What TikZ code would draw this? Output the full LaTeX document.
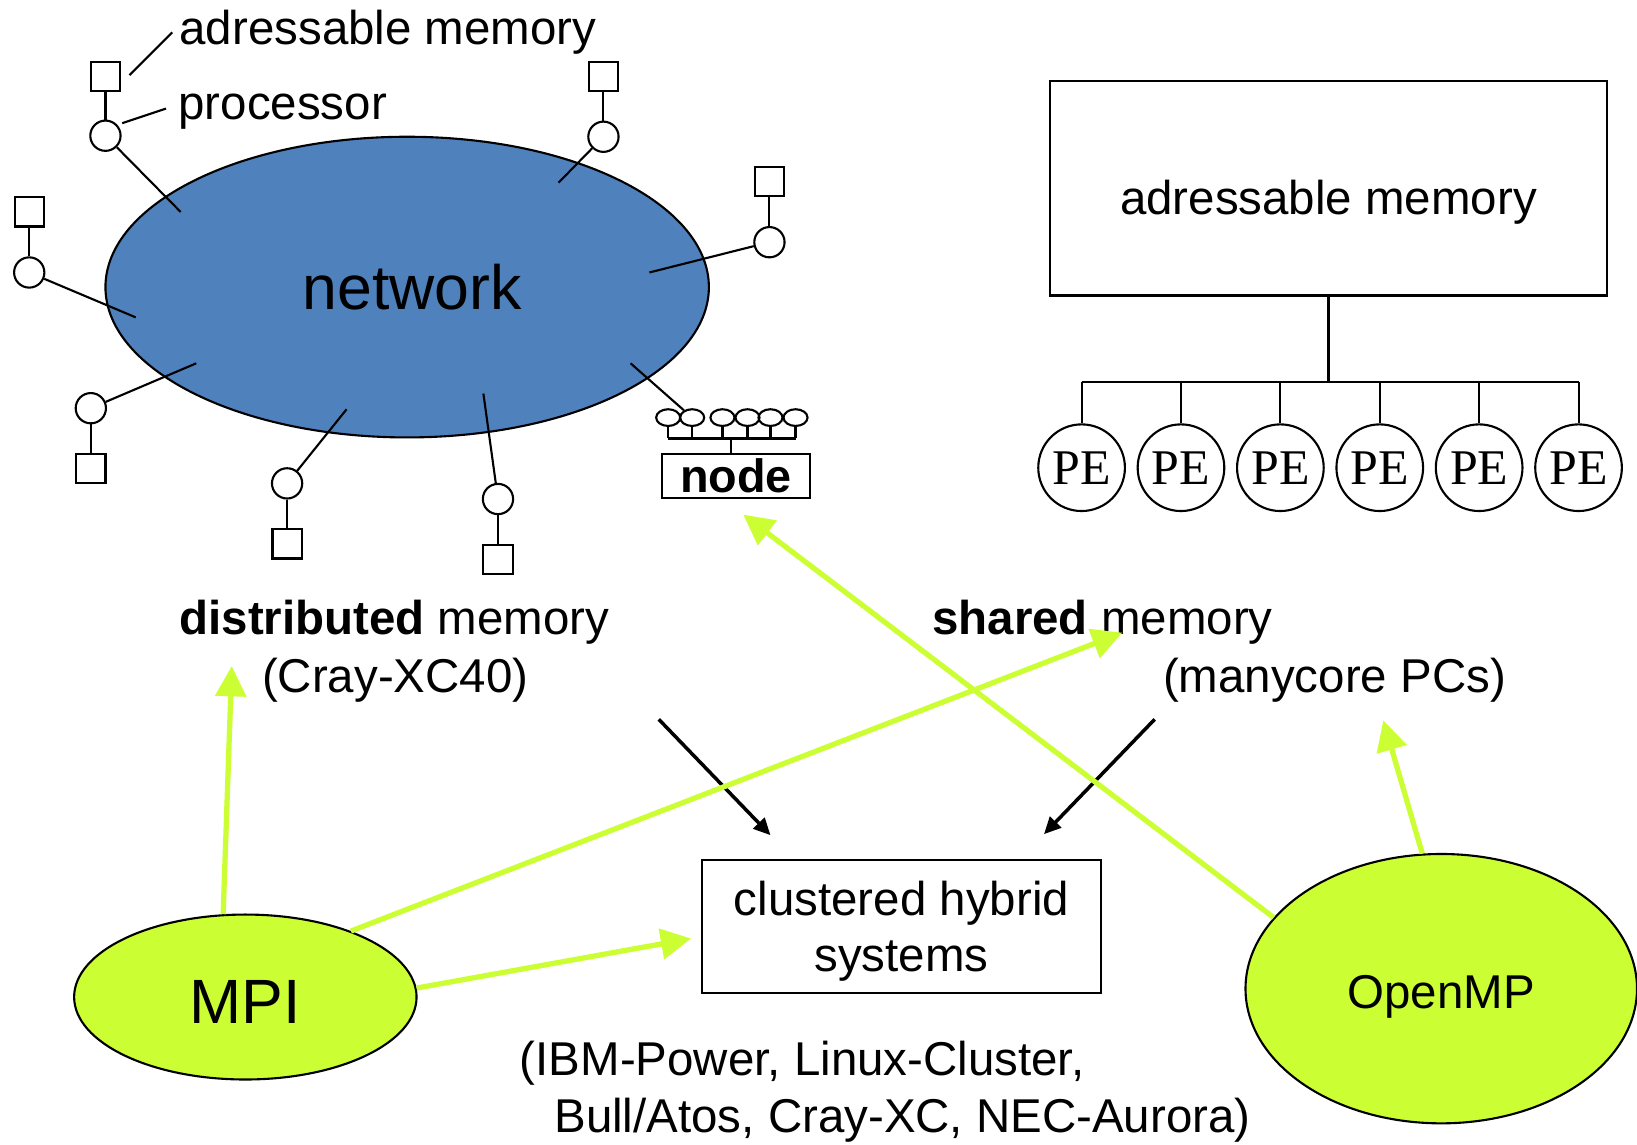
\documentclass[tikz,border=0pt]{standalone}
\usepackage{fontspec}
\setmainfont{Liberation Sans}
\newfontfamily\peserif{Liberation Serif}
\usetikzlibrary{shapes.geometric,arrows.meta}
\definecolor{netblue}{HTML}{4F81BD}
\definecolor{apigreen}{HTML}{CCFF33}

\begin{document}
\begin{tikzpicture}[x=0.01044cm,y=-0.01044cm,line width=0.6pt,
    txt/.style={inner sep=0pt,font=\fontsize{13.5}{16}\selectfont},
    big/.style={inner sep=0pt,font=\fontsize{17.8}{21}\selectfont},
    proc/.style={circle,draw,inner sep=0pt,minimum size=29*\PixelSize},
    mem/.style={rectangle,draw,inner sep=0pt,minimum size=28*\PixelSize},
    core/.style={ellipse,draw,inner sep=0pt,minimum width=23*\PixelSize,minimum height=16*\PixelSize},
    pe/.style={circle,draw,inner sep=0pt,minimum size=83*\PixelSize,font=\peserif\fontsize{14.2}{16}\selectfont},
    api/.style={ellipse,draw,fill=apigreen,inner sep=0pt},
    greenarrow/.style={draw=apigreen,line width=1.5pt,-{Triangle[length=8.6pt,width=8.6pt]}},
    blackarrow/.style={line width=1pt,-{Triangle[length=4.8pt,width=4.4pt]}}
  ]
  \def\PixelSize{0.01044cm}
  \useasboundingbox (0,0) rectangle (1568,1096);

  % distributed memory: processors around the network
  \node[ellipse,draw,fill=netblue,big,minimum width=578*\PixelSize,minimum height=288*\PixelSize]
    (net) at (390,275) {\hspace*{0.1cm}network};
  \foreach \x/\yp/\ym/\tx/\ty [count=\i] in {101/130/73/173/203, 578/131/73/535/175,
      28/261/203/130/304, 737/232/174/622/261, 87/391/449/188/348,
      275/463/521/332/392, 477/478/536/463/377}
  {
    \node[proc] (p\i) at (\x,\yp) {};
    \node[mem] (m\i) at (\x,\ym) {};
    \coordinate (t\i) at (\tx,\ty);
    \draw (m\i) -- (p\i);
    \draw (p\i) -- (t\i);
  }
  \node[txt,anchor=base west] (lblmem) at (171,43) {adressable memory};
  \node[txt,anchor=base west] (lblproc) at (170,114) {processor};
  \coordinate (lm1) at (124,72);
  \coordinate (lm2) at (165,31);
  \coordinate (lp1) at (117,118);
  \coordinate (lp2) at (159,104);
  \draw (lm1) -- (lm2);
  \draw (lp1) -- (lp2);

  % one node with its cores
  \foreach \x [count=\i] in {640,663,692,716,738,762}
    \node[core] (c\i) at (\x,400) {};
  \node[txt,draw,font=\fontsize{13.3}{16}\selectfont\bfseries,minimum width=142*\PixelSize,minimum height=42*\PixelSize]
    (cnode) at (705,456) {node};
  \coordinate (hub) at (700,420);
  \draw (c1.south |- hub) -- (c6.south |- hub);
  \foreach \i in {1,...,6}
    \draw (c\i.south) -- (c\i.south |- hub);
  \draw (hub) -- (hub |- cnode.north);
  \coordinate (t8) at (604,348);
  \draw (t8) -- (c2);

  % shared memory
  \node[txt,draw,text height=49*\PixelSize,text depth=0pt,minimum width=533*\PixelSize,minimum height=205*\PixelSize]
    (smem) at (1272.5,180.5) {adressable memory};
  \coordinate (bus) at (1275,366);
  \foreach \i in {1,...,6}
    \node[pe] (pe\i) at ({1036+95.2*(\i-1)},448) {PE};
  \draw (smem.south) -- (smem.south |- bus);
  \draw (pe1.north |- bus) -- (pe6.north |- bus);
  \foreach \i in {1,...,6}
    \draw (pe\i.north) -- (pe\i.north |- bus);

  % captions
  \node[txt,anchor=base west] (dist) at (171,608) {\textbf{distributed} memory};
  \node[txt,anchor=base west] (cray) at (250,663) {(Cray-XC40)};
  \node[txt,anchor=base west] (shared) at (892,608) {\textbf{shared} memory};
  \node[txt,anchor=base west] (many) at (1113,663) {(manycore PCs)};

  % hybrid systems
  \node[txt,draw,align=center,text depth=0pt,minimum width=383*\PixelSize,minimum height=127*\PixelSize]
    (hybrid) at (863.5,887.5) {clustered hybrid\\systems};
  \node[txt,anchor=base west] (sys1) at (497,1030) {(IBM-Power, Linux-Cluster,};
  \node[txt,anchor=base west] (sys2) at (530,1085) {Bull/Atos, Cray-XC, NEC-Aurora)};
  \coordinate (dtip) at (631,689);
  \coordinate (dend) at (738,800);
  \coordinate (stip) at (1106,689);
  \coordinate (send) at (1000,799);
  \draw[blackarrow] (dtip) -- (dend);
  \draw[blackarrow] (stip) -- (send);

  % programming models
  \node[api,big,text depth=0pt,text height=50*\PixelSize,minimum width=328*\PixelSize,minimum height=158*\PixelSize] (mpi) at (235,955) {MPI};
  \node[api,txt,text depth=0pt,text height=38*\PixelSize,minimum width=375*\PixelSize,minimum height=258*\PixelSize]
    (omp) at (1380.5,947) {OpenMP};
  \coordinate (a1) at (222,638);
  \coordinate (a2) at (1075,606);
  \coordinate (a3) at (662,899);
  \coordinate (a4) at (712,493);
  \coordinate (a5) at (1325,690);
  \draw[greenarrow] (mpi.105) -- (a1);
  \draw[greenarrow] (mpi.32) -- (a2);
  \draw[greenarrow] (mpi.3) -- (a3);
  \draw[greenarrow] (omp.157) -- (a4);
  \draw[greenarrow] (omp.98) -- (a5);
\end{tikzpicture}
\end{document}
